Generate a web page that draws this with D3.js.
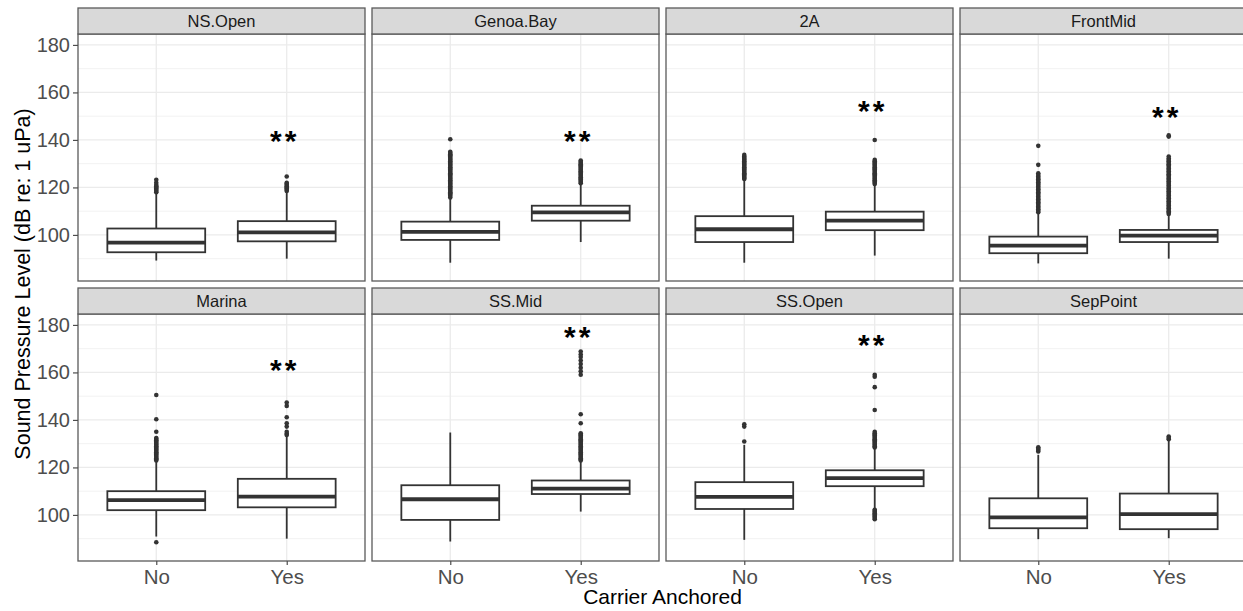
<!DOCTYPE html>
<html>
<head>
<meta charset="utf-8">
<script src="https://cdn.jsdelivr.net/npm/d3@7"></script>
<style>
  body { margin: 0; background: #fff; }
  svg { display: block; font-family: Arial, "Liberation Sans", sans-serif; }
</style>
</head>
<body>
<div id="chart"></div>
<script>
// facets, in reading order
const sites = ["NS.Open", "Genoa.Bay", "2A", "FrontMid", "Marina", "SS.Mid", "SS.Open", "SepPoint"];
const groups = ["No", "Yes"];

// box stats per site: [No, Yes]
const whiskerLow  = [[89.2, 90.0], [88.3, 97.0], [88.3, 91.3], [88.0, 90.0], [90.9, 90.0], [88.8, 101.4], [89.5, 102.8], [89.8, 90.2]];
const q1          = [[92.7, 97.3], [97.9, 106.0], [97.0, 102.0], [92.3, 97.0], [102.0, 103.2], [97.9, 108.8], [102.5, 112.1], [94.4, 94.0]];
const medians     = [[96.8, 101.1], [101.3, 109.5], [102.4, 106.0], [95.5, 99.7], [106.2, 107.7], [106.6, 111.1], [107.6, 115.5], [99.0, 100.3]];
const q3          = [[102.7, 105.8], [105.6, 112.3], [107.9, 109.8], [99.3, 102.1], [110.0, 115.2], [112.5, 114.5], [113.8, 118.8], [107.0, 109.0]];
const whiskerHigh = [[117.5, 118.0], [115.4, 121.3], [123.2, 121.0], [109.1, 108.4], [122.5, 133.3], [134.7, 122.5], [129.5, 128.0], [125.3, 131.6]];

// outliers per site: [No, Yes]
const outliers = [
  [[118, 118.5, 119, 119.5, 120, 120.5, 121, 122, 123.2],
   [118.5, 119, 119.5, 120, 120.5, 121, 121.5, 122, 124.6]],
  [[115.8, 116.5, 117, 117.5, 118, 118.5, 119, 119.5, 120, 120.5, 121, 121.5, 122, 122.5, 123, 123.5, 124, 124.5, 125, 125.5, 126, 126.5, 127, 127.5, 128, 128.5, 129, 129.5, 130, 130.5, 131, 131.5, 132, 132.5, 133, 133.5, 134, 134.5, 135, 140.3],
   [121.8, 122.3, 122.8, 123.3, 123.8, 124.3, 124.8, 125.3, 125.8, 126.3, 126.8, 127.3, 127.8, 128.3, 128.8, 129.3, 129.8, 130.3, 130.8, 131.3]],
  [[123.6, 124, 124.5, 125, 125.5, 126, 126.5, 127, 127.5, 128, 128.5, 129, 129.5, 130, 130.5, 131, 131.5, 132, 132.5, 133, 133.7],
   [121.4, 122, 122.5, 123, 123.5, 124, 124.5, 125, 125.5, 126, 126.5, 127, 127.5, 128, 128.5, 129, 129.5, 130, 130.5, 131, 131.6, 140]],
  [[109.6, 110.2, 110.8, 111.4, 112, 112.6, 113.2, 113.8, 114.4, 115, 115.6, 116.2, 116.8, 117.4, 118, 118.6, 119.2, 119.8, 120.4, 121, 121.6, 122.2, 122.8, 123.4, 124, 124.6, 125.2, 126, 129.5, 137.5],
   [108.8, 109.4, 110, 110.6, 111.2, 111.8, 112.4, 113, 113.6, 114.2, 114.8, 115.4, 116, 116.6, 117.2, 117.8, 118.4, 119, 119.6, 120.2, 120.8, 121.4, 122, 122.6, 123.2, 123.8, 124.4, 125, 125.6, 126.2, 126.8, 127.4, 128, 128.6, 129.2, 129.8, 130.4, 131, 131.6, 132.2, 133, 141.4, 141.9]],
  [[88.5, 122.9, 123.4, 123.9, 124.4, 124.9, 125.4, 125.9, 126.4, 126.9, 127.4, 127.9, 128.4, 128.9, 129.4, 129.9, 130.4, 130.9, 131.4, 132, 132.4, 135, 140.3, 150.5],
   [133.7, 134.2, 135, 137.2, 138.6, 141.1, 145.9, 147.3]],
  [[],
   [122.9, 123.4, 123.9, 124.4, 124.9, 125.4, 125.9, 126.4, 126.9, 127.4, 127.9, 128.4, 128.9, 129.4, 129.9, 130.4, 130.9, 131.4, 131.9, 132.4, 132.9, 133.4, 133.9, 134.4, 138.6, 142.4, 159, 160.5, 162, 163.5, 165, 166.5, 167.5, 168.8]],
  [[130.9, 137.2, 138.2],
   [98.2, 98.7, 99.2, 99.7, 100.2, 100.7, 101.2, 101.7, 102.2, 128.4, 128.9, 129.4, 129.9, 130.4, 130.9, 131.4, 131.9, 132.4, 132.9, 133.4, 133.9, 134.4, 135, 144.2, 153.8, 158.2, 159]],
  [[126.7, 127.3, 127.9, 128.5],
   [131.9, 132.4, 133]]
];

// significance stars (null = none)
const starText = ["**", "**", "**", "**", "**", "**", "**", null];
const starY    = [143, 142.8, 155.5, 152.9, 164.5, 178.3, 174.8, null];

const yTicks = [100, 120, 140, 160, 180];
const yMinor = [90, 110, 130, 150, 170];

const W = 1243, H = 611;
const nCols = 4;
const panelLeft = 78, panelW = 287, gapX = 7;
const stripTops = [8, 288], stripH = 26, plotH = 247;
const FONT = "Arial, 'Liberation Sans', sans-serif";

const svg = d3.select("#chart").append("svg")
  .attr("width", W)
  .attr("height", H);

const y = d3.scaleLinear().domain([80.6, 184.6]).range([plotH, 0]);
// discrete x: positions 1 and 2 with 0.6 expansion on each side
const xPos = d3.scalePoint().domain(groups).range([0, panelW]).padding(0.6);
const boxW = panelW * 0.75 / 2.2;

const DARK = "#333333";

sites.forEach((site, i) => {
  const col = i % nCols, row = Math.floor(i / nCols);
  const px = panelLeft + col * (panelW + gapX);
  const sTop = stripTops[row];
  const g = svg.append("g").attr("transform", `translate(${px},${sTop + stripH})`);

  // grid
  g.selectAll("line.minor").data(yMinor).enter().append("line")
    .attr("x1", 0).attr("x2", panelW)
    .attr("y1", d => y(d)).attr("y2", d => y(d))
    .attr("stroke", "#F2F2F2").attr("stroke-width", 1);
  g.selectAll("line.major").data(yTicks).enter().append("line")
    .attr("x1", 0).attr("x2", panelW)
    .attr("y1", d => y(d)).attr("y2", d => y(d))
    .attr("stroke", "#EBEBEB").attr("stroke-width", 1.3);
  g.selectAll("line.vmaj").data(groups).enter().append("line")
    .attr("x1", d => xPos(d)).attr("x2", d => xPos(d))
    .attr("y1", 0).attr("y2", plotH)
    .attr("stroke", "#EBEBEB").attr("stroke-width", 1.3);

  // boxes
  groups.forEach((grp, j) => {
    const cx = xPos(grp);
    const bg = g.append("g");
    bg.append("line")
      .attr("x1", cx).attr("x2", cx)
      .attr("y1", y(whiskerHigh[i][j])).attr("y2", y(q3[i][j]))
      .attr("stroke", DARK).attr("stroke-width", 1.8);
    bg.append("line")
      .attr("x1", cx).attr("x2", cx)
      .attr("y1", y(q1[i][j])).attr("y2", y(whiskerLow[i][j]))
      .attr("stroke", DARK).attr("stroke-width", 1.8);
    bg.append("rect")
      .attr("x", cx - boxW / 2).attr("width", boxW)
      .attr("y", y(q3[i][j])).attr("height", y(q1[i][j]) - y(q3[i][j]))
      .attr("fill", "#fff").attr("stroke", DARK).attr("stroke-width", 1.8);
    bg.append("line")
      .attr("x1", cx - boxW / 2).attr("x2", cx + boxW / 2)
      .attr("y1", y(medians[i][j])).attr("y2", y(medians[i][j]))
      .attr("stroke", DARK).attr("stroke-width", 3.8);
    bg.selectAll("circle").data(outliers[i][j]).enter().append("circle")
      .attr("cx", cx).attr("cy", d => y(d)).attr("r", 2.3)
      .attr("fill", DARK);
  });

  if (starText[i]) {
    g.append("text")
      .attr("x", xPos("Yes") - 2).attr("y", y(starY[i]))
      .attr("dy", "0.6em")
      .attr("text-anchor", "middle")
      .attr("font-size", 30).attr("font-weight", "bold")
      .attr("letter-spacing", 3)
      .attr("fill", "#000")
      .text(starText[i]);
  }

  // panel border
  g.append("rect")
    .attr("x", 0).attr("y", 0).attr("width", panelW).attr("height", plotH)
    .attr("fill", "none").attr("stroke", "#5a5a5a").attr("stroke-width", 1.3);

  // strip
  svg.append("rect")
    .attr("x", px).attr("y", sTop).attr("width", panelW).attr("height", stripH)
    .attr("fill", "#D9D9D9").attr("stroke", "#5a5a5a").attr("stroke-width", 1.3);
  svg.append("text")
    .attr("x", px + panelW / 2).attr("y", sTop + stripH / 2)
    .attr("dy", "0.36em").attr("text-anchor", "middle")
    .attr("font-size", 16.5).attr("fill", "#1A1A1A")
    .text(site);

  // y axis on first column
  if (col === 0) {
    const ax = g.append("g").call(d3.axisLeft(y).tickValues(yTicks).tickSize(5).tickPadding(3));
    ax.select(".domain").remove();
    ax.selectAll("line").attr("stroke", "#4D4D4D").attr("stroke-width", 1.2);
    ax.selectAll("text").attr("font-size", 20).attr("fill", "#4D4D4D")
      .attr("font-family", FONT);
  }
  // x axis on bottom row
  if (row === 1) {
    const ax = g.append("g").attr("transform", `translate(0,${plotH})`)
      .call(d3.axisBottom(xPos).tickSize(4).tickPadding(4));
    ax.select(".domain").remove();
    ax.selectAll("line").attr("stroke", "#4D4D4D").attr("stroke-width", 1.2);
    ax.selectAll("text").attr("font-size", 20.5).attr("fill", "#4D4D4D")
      .attr("font-family", FONT);
  }
});

// axis titles
svg.append("text")
  .attr("transform", `translate(22,284) rotate(-90)`)
  .attr("text-anchor", "middle").attr("dy", "0.35em")
  .attr("font-size", 21.5).attr("fill", "#000")
  .text("Sound Pressure Level (dB re: 1 uPa)");

svg.append("text")
  .attr("x", panelLeft + (nCols * panelW + (nCols - 1) * gapX) / 2)
  .attr("y", 597).attr("dy", "0.35em")
  .attr("text-anchor", "middle")
  .attr("font-size", 21).attr("fill", "#000")
  .text("Carrier Anchored");
</script>
</body>
</html>
